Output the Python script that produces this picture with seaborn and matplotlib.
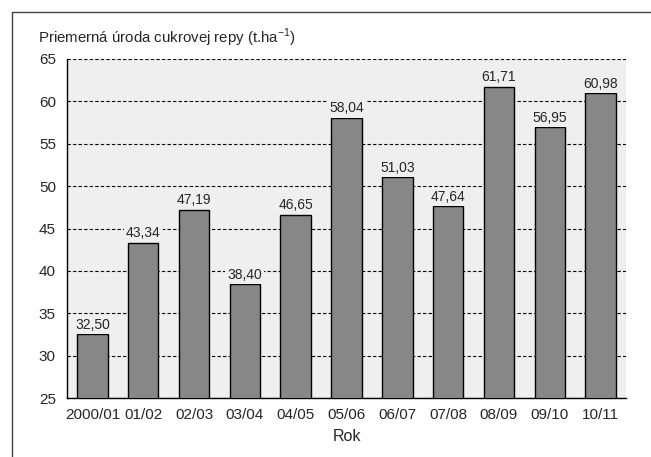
import matplotlib
matplotlib.use("Agg")
import matplotlib.pyplot as plt
import seaborn as sns
import pandas as pd
from matplotlib.lines import Line2D

years = ["2000/01", "01/02", "02/03", "03/04", "04/05", "05/06", "06/07", "07/08", "08/09", "09/10", "10/11"]
yields = [32.50, 43.34, 47.19, 38.40, 46.65, 58.04, 51.03, 47.64, 61.71, 56.95, 60.98]
labels = ["32,50", "43,34", "47,19", "38,40", "46,65", "58,04", "51,03", "47,64", "61,71", "56,95", "60,98"]
yticks = [25, 30, 35, 40, 45, 50, 55, 60, 65]

sns.set_style("white")
plt.rcParams["font.family"] = ["Liberation Sans", "DejaVu Sans"]

df = pd.DataFrame({"Rok": years, "val": yields})

W, H = 651, 457
BG = "#eeefee"
fig = plt.figure(figsize=(W / 100, H / 100), dpi=100)
L, R, T, B = 67, 626, 59, 398
ax = fig.add_axes([L / W, 1 - B / H, (R - L) / W, (B - T) / H])
ax.set_facecolor(BG)

sns.barplot(data=df, x="Rok", y="val", color="#878787", width=0.6,
            edgecolor="black", linewidth=1.0, saturation=1, ax=ax, zorder=3)

ax.set_ylim(25, 65)
ax.set_xlim(-0.5, len(years) - 0.5)
ax.set_yticks(yticks)
ax.set_yticklabels([str(v) for v in yticks], fontsize=11)
ax.yaxis.grid(True, linestyle=(0, (3, 2)), color="black", linewidth=0.8, zorder=1)
ax.set_axisbelow(True)

# category labels centered, ticks at boundaries
ax.set_xticks(range(len(years)))
ax.set_xticklabels(years, fontsize=11)
ax.tick_params(axis="x", length=0, pad=7)
ax.set_xticks([i - 0.5 for i in range(len(years) + 1)], minor=True)
ax.tick_params(axis="x", which="minor", length=7, width=1, color="black", direction="out")
ax.tick_params(axis="y", length=5, width=1, color="black", direction="out", pad=3)

for s in ["top", "right"]:
    ax.spines[s].set_visible(False)
ax.spines["left"].set_color("black")
ax.spines["bottom"].set_color("black")
ax.spines["left"].set_linewidth(1.0)
ax.spines["bottom"].set_linewidth(1.0)

for i, (v, lab) in enumerate(zip(yields, labels)):
    ax.text(i, v + 0.3, lab, ha="center", va="bottom", fontsize=10, zorder=4,
            bbox=dict(facecolor=BG, edgecolor="none", pad=1.5))

ax.set_xlabel("Rok", fontsize=11.5, labelpad=5)
ax.set_ylabel("")

fig.text(38 / W, 1 - 38 / H, "Priemerná úroda cukrovej repy (t.ha$^{\\mathregular{-1}}$)",
         fontsize=10.8, ha="left", va="center")

# outer frame lines (top and left)
fig.add_artist(Line2D([12 / W, 1], [1 - 12 / H, 1 - 12 / H], transform=fig.transFigure,
                      color="#444444", linewidth=1.0))
fig.add_artist(Line2D([12 / W, 12 / W], [1 - 12 / H, 0], transform=fig.transFigure,
                      color="#444444", linewidth=1.0))

fig.savefig("out.png", dpi=100)
